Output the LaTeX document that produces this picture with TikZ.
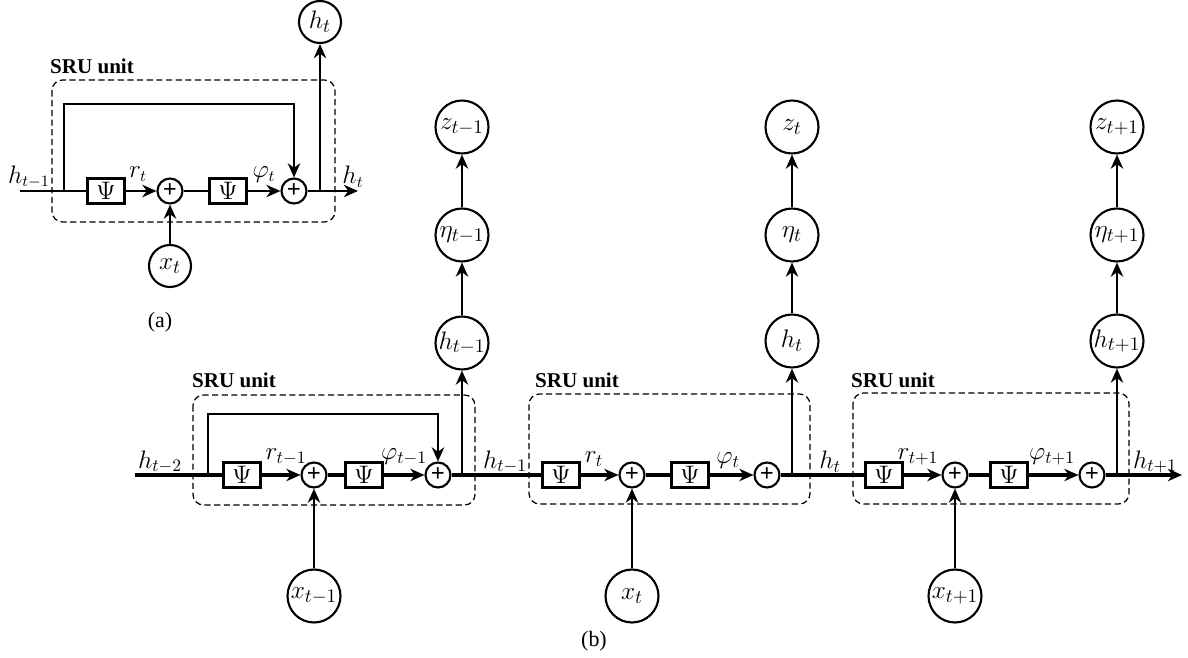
\documentclass[tikz,border=0pt]{standalone}
\usepackage{fontspec}
\setmainfont{Liberation Serif}
\usetikzlibrary{arrows.meta}

\tikzset{
  var/.style={circle, draw, line width=1.2pt, minimum size=0.84cm, inner sep=0pt, font=\fontsize{15}{15}\selectfont},
  bigvar/.style={var, minimum size=1.06cm, font=\fontsize{15.5}{15.5}\selectfont},
  psi/.style={draw, line width=1.2pt, minimum width=0.74cm, minimum height=0.5cm, inner sep=0pt, font=\fontsize{15}{15}\selectfont},
  add/.style={circle, draw, line width=1.2pt, minimum size=0.5cm, inner sep=0pt, font=\bfseries\fontsize{14}{14}\selectfont},
  unit/.style={draw, line width=0.7pt, rounded corners=6pt, dash pattern=on 3.5pt off 2pt},
  flow/.style={line width=1.5pt, -{Stealth[length=8pt, width=7pt, inset=2.5pt]}},
  link/.style={line width=1.5pt},
  mainline/.style={line width=1.8pt},
  lbl/.style={font=\fontsize{13.5}{13.5}\selectfont, inner sep=0pt},
  blbl/.style={font=\fontsize{14}{14}\selectfont, inner sep=0pt},
  title/.style={font=\bfseries\fontsize{12}{12}\selectfont, inner sep=0pt},
  caption/.style={font=\fontsize{12.5}{12.5}\selectfont, inner sep=0pt},
}

\begin{document}
\begin{tikzpicture}[x=0.02cm, y=-0.02cm]
			%%%%% START %%%%%
			\useasboundingbox (0,0) rectangle (1188,658);
			
			%%%%% (a) single unit %%%%%
			\draw[unit] (52,80) rectangle (335,222);
			\node[title] (atitle) at (92,66) {SRU unit};
			
			\node[psi] (apsi1) at (106,191) {$\Psi$};
			\node[add] (aplus1) at (170,191) {+};
			\node[psi] (apsi2) at (228,191) {$\Psi$};
			\node[add] (aplus2) at (294,191) {+};
			\node[var] (ah) at (320,22) {$h_t$};
			\node[var] (ax) at (170,266) {$x_t$};
			
			\coordinate (ain) at (20,191);
			\coordinate (asplit) at (64,191);
			\coordinate (aloop) at (64,104);
			\coordinate (aup) at (320,191);
			\coordinate (aout) at (358,191);
			
			\draw[link] (ain) -- (apsi1);
			\draw[flow] (asplit) -- (aloop) -| (aplus2);
			\draw[flow] (apsi1) -- (aplus1);
			\draw[link] (aplus1) -- (apsi2);
			\draw[flow] (apsi2) -- (aplus2);
			\draw[flow] (aplus2) -- (aout);
			\draw[flow] (aup) -- (ah);
			\draw[flow] (ax) -- (aplus1);
			
			\node[lbl] (ahin) at (29,177) {$h_{t-1}$};
			\node[lbl] (ar) at (138,174) {$r_t$};
			\node[lbl] (aphi) at (264,175) {$\varphi_t$};
			\node[lbl] (ahout) at (353,177) {$h_t$};
			\node[caption] (acap) at (160,322) {(a)};
			
			%%%%% (b) unrolled %%%%%
			\coordinate (bin) at (135,475);
			\coordinate (bout) at (1182,475);
			\node[blbl] (bh0lbl) at (160,462) {$h_{t-2}$};
			
			% unit t-1
			\draw[unit] (193,395) rectangle (475,505);
			\node[title] (b1title) at (234,380) {SRU unit};
			\node[psi] (b1psi1) at (242,475) {$\Psi$};
			\node[add] (b1plus1) at (314,475) {+};
			\node[psi] (b1psi2) at (364,475) {$\Psi$};
			\node[add] (b1plus2) at (438,475) {+};
			\node[bigvar] (b1h) at (462,343) {$h_{t-1}$};
			\node[bigvar] (b1eta) at (462,235) {$\eta_{t-1}$};
			\node[bigvar] (b1z) at (462,127) {$z_{t-1}$};
			\node[bigvar] (b1x) at (314,596) {$x_{t-1}$};
			\coordinate (b1split) at (208,475);
			\coordinate (b1loop) at (208,414);
			\coordinate (b1up) at (462,475);
			\node[blbl] (b1r) at (286,457) {$r_{t-1}$};
			\node[blbl] (b1phi) at (404,457) {$\varphi_{t-1}$};
			\node[blbl] (b1hlbl) at (505,462) {$h_{t-1}$};
			
			% unit t
			\draw[unit] (529,394) rectangle (810,504);
			\node[title] (b2title) at (577,380) {SRU unit};
			\node[psi] (b2psi1) at (561,475) {$\Psi$};
			\node[add] (b2plus1) at (632,475) {+};
			\node[psi] (b2psi2) at (690,475) {$\Psi$};
			\node[add] (b2plus2) at (767,475) {+};
			\node[bigvar] (b2h) at (792,341) {$h_t$};
			\node[bigvar] (b2eta) at (792,235) {$\eta_t$};
			\node[bigvar] (b2z) at (792,127) {$z_t$};
			\node[bigvar] (b2x) at (632,596) {$x_t$};
			\coordinate (b2up) at (792,475);
			\node[blbl] (b2r) at (594,459) {$r_t$};
			\node[blbl] (b2phi) at (728,461) {$\varphi_t$};
			\node[blbl] (b2hlbl) at (830,462) {$h_t$};
			
			% unit t+1
			\draw[unit] (853,393) rectangle (1129,504);
			\node[title] (b3title) at (893,380) {SRU unit};
			\node[psi] (b3psi1) at (884,475) {$\Psi$};
			\node[add] (b3plus1) at (955,475) {+};
			\node[psi] (b3psi2) at (1009,475) {$\Psi$};
			\node[add] (b3plus2) at (1092,475) {+};
			\node[bigvar] (b3h) at (1117,341) {$h_{t+1}$};
			\node[bigvar] (b3eta) at (1117,235) {$\eta_{t+1}$};
			\node[bigvar] (b3z) at (1117,127) {$z_{t+1}$};
			\node[bigvar] (b3x) at (955,596) {$x_{t+1}$};
			\coordinate (b3up) at (1117,475);
			\node[blbl] (b3r) at (918,457) {$r_{t+1}$};
			\node[blbl] (b3phi) at (1052,457) {$\varphi_{t+1}$};
			\node[blbl] (b3hlbl) at (1155,462) {$h_{t+1}$};
			
			% main line
			\draw[mainline] (bin) -- (b1psi1);
			\draw[mainline] (b1plus2) -- (b2psi1);
			\draw[mainline] (b2plus2) -- (b3psi1);
			\draw[flow, mainline] (b3plus2) -- (bout);
			
			% inside the units
			\draw[flow] (b1split) -- (b1loop) -| (b1plus2);
			\draw[flow, mainline] (b1psi1) -- (b1plus1);
			\draw[mainline] (b1plus1) -- (b1psi2);
			\draw[flow, mainline] (b1psi2) -- (b1plus2);
			\draw[flow] (b1x) -- (b1plus1);
			
			\draw[flow, mainline] (b2psi1) -- (b2plus1);
			\draw[mainline] (b2plus1) -- (b2psi2);
			\draw[flow, mainline] (b2psi2) -- (b2plus2);
			\draw[flow] (b2x) -- (b2plus1);
			
			\draw[flow, mainline] (b3psi1) -- (b3plus1);
			\draw[mainline] (b3plus1) -- (b3psi2);
			\draw[flow, mainline] (b3psi2) -- (b3plus2);
			\draw[flow] (b3x) -- (b3plus1);
			
			% outputs
			\draw[flow] (b1up) -- (b1h);
			\draw[flow] (b1h) -- (b1eta);
			\draw[flow] (b1eta) -- (b1z);
			\draw[flow] (b2up) -- (b2h);
			\draw[flow] (b2h) -- (b2eta);
			\draw[flow] (b2eta) -- (b2z);
			\draw[flow] (b3up) -- (b3h);
			\draw[flow] (b3h) -- (b3eta);
			\draw[flow] (b3eta) -- (b3z);
			
			\node[caption] (bcap) at (594,641) {(b)};
			
			%%%%% END %%%%%
\end{tikzpicture}
\end{document}
